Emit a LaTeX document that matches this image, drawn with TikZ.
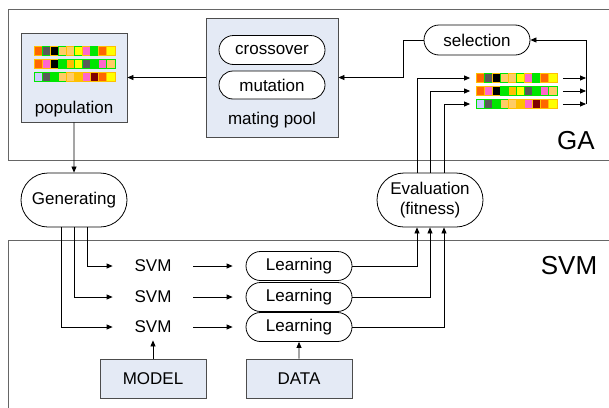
\documentclass[tikz,border=0pt]{standalone}
\usepackage{fontspec}
\setmainfont{Liberation Sans}
\usetikzlibrary{arrows.meta, positioning, shapes.misc}
\usepackage{xcolor}
\definecolor{boxfill}{RGB}{228,234,245}
\definecolor{orng}{RGB}{255,102,0}
\definecolor{dgray}{RGB}{89,89,89}
\definecolor{lorng}{RGB}{255,204,102}
\definecolor{yel}{RGB}{255,255,0}
\definecolor{pink}{RGB}{255,102,204}
\definecolor{grn}{RGB}{0,230,0}
\definecolor{gold}{RGB}{255,192,0}
\definecolor{lav}{RGB}{204,204,255}
\definecolor{dred}{RGB}{128,0,0}
\def\cellw{8.1}

\begin{document}
\begin{tikzpicture}[x=1pt, y=-1pt, line width=0.8pt, >={Triangle[length=6pt,width=5pt]}, font={\fontsize{17}{20}\selectfont}]
    \tikzstyle{box}=[draw=black!70, fill=boxfill, rectangle, inner sep=0pt]
    \tikzstyle{pill}=[draw=black, fill=white, rounded rectangle, minimum width=106pt, inner sep=0pt, align=center]
    \tikzstyle{plain}=[inner sep=0pt]
    \tikzstyle{strip}=[minimum width=92pt, minimum height=11pt, inner sep=0pt]
    \tikzstyle{frame}=[draw=black!60, line width=1pt]
    \tikzstyle{big}=[inner sep=0pt, font={\fontsize{26}{30}\selectfont}]

    \useasboundingbox (0,0) rectangle (609,407);

%   GA and SVM areas
    \draw[frame] (620,9) -- (8,9) -- (8,160) -- (620,160);
    \draw[frame] (620,240) -- (8,240) -- (8,420);
    \node[big] (galabel) at (576,141) {GA};
    \node[big] (svmlabel) at (569,266) {SVM};

    \node[box, minimum width=106pt, minimum height=89pt] (pop) at (74,77.5) {};
    \node[plain] (poptext) at (74,109) {population};
    \node[box, minimum width=132pt, minimum height=119pt] (mate) at (272,77.5) {};
    \node[pill, minimum height=29pt] (cross) at (272,50) {crossover};
    \node[pill, minimum height=28pt] (mut) at (272,85) {mutation};
    \node[plain] (matetext) at (272,120) {mating pool};
    \node[pill, minimum height=30pt] (sel) at (477,40) {selection};
    \node[pill, minimum height=54pt] (eval) at (430,200) {Evaluation\\(fitness)};
    \node[pill, minimum height=54pt] (gen) at (74,200) {Generating};

%   chromosomes
	\foreach \strip/\xx/\yy in {P/34/51, R/476/78}{
		\foreach \k/\cols in {1/{orng/gold, dgray/grn, black/gold, lorng/grn, lorng/gold, yel/grn, pink/gold, grn/grn, orng/gold, yel/gold},
		                      2/{orng/gold, pink/gold, black/gold, grn/grn, gold/grn, yel/grn, dgray/grn, grn/grn, pink/grn, lorng/grn},
		                      3/{lav/grn, dgray/grn, grn/grn, lorng/grn, lorng/gold, gold/gold, pink/gold, dred/gold, orng/gold, yel/gold}}{
			\pgfmathsetmacro\ry{\yy+(\k-1)*13}
			\pgfmathsetmacro\rx{\xx+40.5}
			\node[strip] (\strip-\k) at (\rx,\ry) {};
			\foreach \fc/\dc [count=\i] in \cols{
				\pgfmathsetmacro\cx{\xx+(\i-1)*\cellw}
				\draw[fill=\fc, draw=\dc, line width=1pt] (\cx,\ry-4.5) rectangle ++(\cellw,9);
			}
		}
	}

	\foreach \k/\y in {1/266, 2/297, 3/327}{
		\node[plain, minimum width=80pt, minimum height=26pt] (S-\k) at (153,\y) {SVM};
		\node[pill, minimum height=29pt] (L-\k) at (299,\y) {Learning};
		\draw[->, shorten >=13pt] (S-\k) -- (L-\k);
	}

    \node[box, minimum width=106pt, minimum height=39pt] (model) at (153,378.5) {MODEL};
    \node[box, minimum width=106pt, minimum height=39pt] (data) at (299,378.5) {DATA};

    \coordinate (merge) at (586,40);

	\path (mate) edge[->] (pop);
	\path (pop) edge[->] (gen);
	\draw[->] (sel.west) -- ++(-20,0) |- (mate.east);

	\draw[->] ([xshift=13pt]gen.south) |- (S-1.west);
	\draw[->] (gen.south) |- (S-2.west);
	\draw[->] ([xshift=-13pt]gen.south) |- (S-3.west);

	\draw[->] (L-1.east) -| ([xshift=-13pt]eval.south);
	\draw[->] (L-2.east) -| (eval.south);
	\draw[->] (L-3.east) -| ([xshift=14pt]eval.south);

	\draw[->] ([xshift=-13pt]eval.north) |- (R-1.west);
	\draw[->] (eval.north) |- (R-2.west);
	\draw[->] ([xshift=14pt]eval.north) |- (R-3.west);

	\foreach \k in {1,2,3}
		\draw[->] (R-\k.east) -- (R-\k.east -| merge);
	\draw[->] (R-3.east -| merge) -- (merge) -- (sel.east);

	\path (model) edge[->] (S-3);
	\path (data) edge[->] (L-3);
\end{tikzpicture}
\end{document}
